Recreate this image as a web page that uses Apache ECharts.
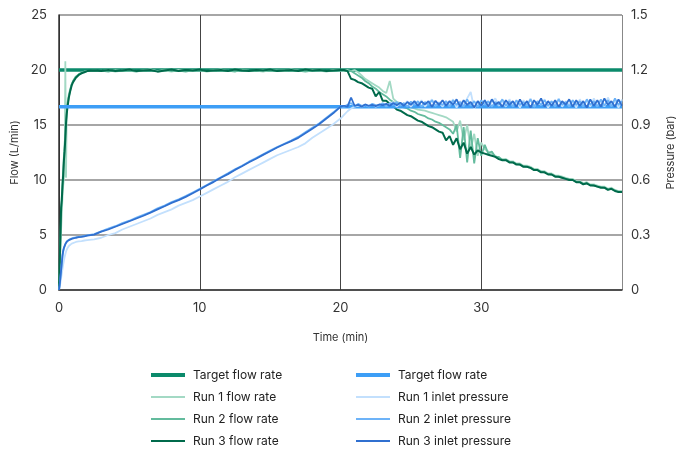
<!DOCTYPE html>
<html>
<head>
<meta charset="utf-8">
<script src="https://cdn.jsdelivr.net/npm/echarts@6/dist/echarts.min.js"></script>
<style>html,body{margin:0;padding:0;background:#fff}#c{width:684px;height:450px}</style>
</head>
<body>
<div id="c"></div>
<script>
// ---- time (min) ----
const tEarly = [0,0.05,0.1,0.15,0.2,0.25,0.3,0.35,0.4,0.45,0.5,0.55,0.6,0.7,0.8,0.9,1.0,1.2,1.4,1.6,1.8,2.0];
const tMid = [2.5,3,3.5,4,4.5,5,5.5,6,6.5,7,7.5,8,
  8.5,9,9.5,10,10.5,11,11.5,12,12.5,13,13.5,14,
  14.5,15,15.5,16,16.5,17,17.5,18,18.5,19,19.5,20];
const tLate = [20.25,20.5,20.75,21,21.25,21.5,21.75,22,22.25,22.5,
  22.75,23,23.25,23.5,23.75,24,24.25,24.5,24.75,25,
  25.25,25.5,25.75,26,26.25,26.5,26.75,27,27.25,27.5,
  27.75,28,28.25,28.5,28.75,29,29.25,29.5,29.75,30,
  30.25,30.5,30.75,31,31.25,31.5,31.75,32,32.25,32.5,
  32.75,33,33.25,33.5,33.75,34,34.25,34.5,34.75,35,
  35.25,35.5,35.75,36,36.25,36.5,36.75,37,37.25,37.5,
  37.75,38,38.25,38.5,38.75,39,39.25,39.5,39.75,40];
const time = tEarly.concat(tMid, tLate);

// ---- targets ----
const targetTime = [0, 40];
const targetFlow = [20, 20];
const targetPressure = [1.0, 1.0];

// ---- flow rate (L/min) ----
const run1Flow = [
  0,1.5,3.5,5.5,7.0,8.5,9.5,10.2,10.5,20.8,10.2,16.5,17.0,17.8,18.3,18.7,19.0,19.4,19.6,19.75,19.85,19.9,
  19.95,19.9,20.0,19.85,19.95,20.0,19.9,19.95,20.05,19.9,19.95,19.85,
  20.0,19.9,19.95,20.0,19.85,19.95,20.05,19.9,19.95,20.0,19.9,19.95,
  19.85,20.0,19.95,19.9,20.05,19.95,19.9,20.0,19.95,19.85,20.0,19.95,
  19.95,20.0,19.9,20.0,19.8,19.5,19.2,19.0,18.8,18.6,
  18.4,18.1,17.9,19.0,17.4,17.1,17.0,16.8,16.7,16.6,
  16.5,16.4,16.35,16.3,16.2,16.1,16.0,15.9,15.8,15.7,
  15.5,15.3,14.4,15.4,13.6,15.0,12.8,14.2,12.2,13.4,
  12.8,12.6,12.4,12.2,12.0,11.9,11.9,11.7,11.7,11.5,
  11.5,11.3,11.3,11.2,11.0,11.0,10.8,10.8,10.6,10.6,
  10.4,10.4,10.3,10.2,10.1,10.1,9.9,9.9,9.7,9.8,
  9.6,9.6,9.5,9.4,9.4,9.2,9.3,9.1,9.0,9.0];
const run2Flow = [
  0,2.0,4.5,7.0,8.5,9.8,11.0,12.2,13.2,14.3,15.4,16.2,16.8,17.6,18.2,18.7,19.0,19.4,19.6,19.75,19.85,19.9,
  19.9,19.95,19.85,20.0,19.9,19.95,19.85,20.0,19.95,19.9,20.05,19.9,
  19.95,19.85,20.0,19.95,19.9,20.0,19.9,19.95,19.85,20.05,19.95,19.9,
  20.0,19.9,19.95,20.0,19.9,19.95,19.85,19.95,20.0,19.9,19.95,20.0,
  20.0,19.95,19.9,19.7,19.5,19.3,19.0,18.8,18.5,18.3,
  18.0,17.8,17.6,17.3,17.1,16.9,16.8,16.6,16.5,16.3,
  16.2,16.0,15.9,15.8,15.6,15.5,15.3,15.2,15.0,14.8,
  14.6,14.2,15.0,12.0,14.8,11.6,14.5,11.5,13.8,12.2,
  13.2,12.4,12.6,12.1,12.1,11.8,11.85,11.65,11.6,11.45,
  11.4,11.25,11.2,11.1,10.95,10.9,10.75,10.7,10.55,10.5,
  10.35,10.3,10.2,10.1,10.05,10.0,9.85,9.8,9.65,9.7,
  9.55,9.5,9.4,9.35,9.3,9.15,9.2,9.05,8.95,8.9];
const run3Flow = [
  0,2.5,5.0,7.5,8.2,9.5,10.5,11.8,12.6,13.8,15.2,16.0,16.6,17.5,18.1,18.6,18.9,19.3,19.55,19.7,19.8,19.9,
  19.95,19.9,20.0,19.9,19.95,20.05,19.9,19.95,20.0,19.85,19.95,20.05,
  19.9,20.0,19.95,20.05,19.9,19.95,20.0,19.9,20.05,19.95,19.9,20.0,
  19.95,20.05,19.9,19.95,20.0,19.9,20.05,19.95,20.0,19.9,19.95,20.0,
  20.0,19.9,19.2,19.1,18.9,18.8,18.6,18.4,18.3,17.6,
  18.0,17.2,17.2,16.9,16.7,16.4,16.3,16.1,15.9,15.8,
  15.6,15.4,15.3,15.1,14.9,14.8,14.6,14.4,14.3,13.6,
  14.0,13.2,13.8,12.8,13.4,12.4,13.0,12.3,12.7,12.5,
  12.4,12.3,12.2,12.1,11.9,11.8,11.8,11.6,11.6,11.4,
  11.4,11.2,11.2,11.1,10.9,10.9,10.7,10.7,10.5,10.5,
  10.3,10.3,10.2,10.1,10.0,10.0,9.8,9.8,9.6,9.7,
  9.5,9.5,9.4,9.3,9.3,9.1,9.2,9.0,8.9,8.9];

// ---- inlet pressure (bar) ----
const run1Pressure = [
  0,0.015,0.04,0.065,0.09,0.115,0.14,0.16,0.18,0.195,0.21,0.22,0.228,0.24,0.248,0.253,0.257,0.262,0.265,0.267,0.27,0.272,
  0.276,0.285,0.30,0.31,0.33,0.345,0.36,0.375,0.39,0.41,0.425,0.44,
  0.46,0.475,0.49,0.51,0.53,0.55,0.57,0.59,0.615,0.635,0.655,0.675,
  0.695,0.715,0.735,0.75,0.765,0.78,0.80,0.83,0.855,0.88,0.905,0.935,
  0.955,0.975,0.99,1.0,1.005,1.0,1.01,1.005,1.015,1.0,
  1.01,1.02,1.005,1.015,1.025,1.0,1.02,1.01,1.03,1.0,
  1.025,1.01,1.035,1.0,1.02,1.04,1.005,1.025,1.0,1.03,
  1.01,1.04,0.995,1.03,1.01,1.045,1.08,0.99,1.03,1.005,
  1.035,1.0,1.025,1.045,1.005,1.03,1.0,1.04,1.01,1.025,
  0.995,1.035,1.01,1.045,1.0,1.03,1.01,1.04,0.995,1.025,
  1.01,1.045,1.0,1.03,1.01,1.035,0.995,1.04,1.01,1.03,
  1.0,1.045,1.005,1.035,1.0,1.05,1.01,1.03,0.995,1.04];
const run2Pressure = [
  0,0.028,0.065,0.105,0.145,0.185,0.21,0.228,0.24,0.25,0.258,0.264,0.269,0.274,0.278,0.281,0.284,0.287,0.29,0.292,0.295,0.298,
  0.305,0.32,0.335,0.348,0.365,0.378,0.395,0.41,0.425,0.445,0.46,0.48,
  0.495,0.512,0.532,0.552,0.573,0.594,0.615,0.636,0.658,0.678,0.70,0.72,
  0.74,0.76,0.78,0.798,0.815,0.835,0.86,0.885,0.91,0.94,0.97,1.0,
  1.0,1.01,1.02,1.0,1.015,1.005,1.01,1.0,1.015,1.008,
  1.005,1.018,1.0,1.02,1.01,1.025,1.005,1.02,1.0,1.028,
  1.01,1.03,1.0,1.025,1.01,1.035,1.005,1.02,1.01,1.03,
  1.0,1.035,1.01,1.025,1.0,1.04,1.005,1.03,1.0,1.035,
  1.01,1.03,1.0,1.025,1.01,1.04,1.005,1.03,1.0,1.035,
  1.01,1.025,1.005,1.04,1.0,1.03,1.01,1.035,1.005,1.03,
  1.0,1.04,1.01,1.025,1.0,1.035,1.01,1.03,1.0,1.04,
  1.01,1.03,1.0,1.04,1.005,1.035,1.0,1.045,1.01,1.03];
const run3Pressure = [
  0,0.03,0.07,0.11,0.15,0.19,0.215,0.23,0.24,0.25,0.257,0.263,0.268,0.272,0.276,0.279,0.282,0.285,0.288,0.29,0.293,0.296,
  0.302,0.318,0.33,0.345,0.36,0.375,0.39,0.405,0.422,0.44,0.457,0.475,
  0.49,0.508,0.528,0.548,0.57,0.59,0.612,0.632,0.655,0.675,0.697,0.716,
  0.737,0.757,0.777,0.795,0.812,0.83,0.855,0.88,0.905,0.935,0.965,1.0,
  1.005,1.0,1.05,1.005,1.01,1.0,1.012,1.005,1.01,1.003,
  1.012,1.008,1.015,1.005,1.02,1.008,1.022,1.005,1.025,1.01,
  1.03,1.005,1.028,1.012,1.03,1.0,1.032,1.01,1.035,1.005,
  1.03,1.01,1.04,1.0,1.035,1.01,1.025,0.995,1.03,1.005,
  1.035,1.0,1.04,1.01,1.025,1.0,1.035,1.01,1.03,1.0,
  1.04,1.005,1.03,0.995,1.035,1.01,1.045,1.0,1.03,1.005,
  1.035,1.0,1.03,1.01,1.04,1.0,1.035,1.005,1.03,0.995,
  1.04,1.005,1.035,1.0,1.045,1.01,1.03,1.0,1.04,1.005];

// ---- axis ticks / labels ----
const flowTicks = {min: 0, max: 25, interval: 5};
const pressureTicks = {min: 0, max: 1.5, interval: 0.3};
const timeTicks = {min: 0, max: 40, interval: 10};

const flowLegend = ['Target flow rate', 'Run 1 flow rate', 'Run 2 flow rate', 'Run 3 flow rate'];
const pressureLegend = ['Target flow rate ', 'Run 1 inlet pressure', 'Run 2 inlet pressure', 'Run 3 inlet pressure'];

function pairs(xs, ys) {
  const out = [];
  for (let i = 0; i < xs.length && i < ys.length; i++) out.push([xs[i], ys[i]]);
  return out;
}

const FONT = 'Inter';
const THICK_ICON = 'path://M0,0H34V4H0Z';
const THIN_ICON = 'path://M0,0H34V2H0Z';
function legendItems(names) {
  return names.map(function (n, i) { return {name: n, icon: i === 0 ? THICK_ICON : THIN_ICON}; });
}
function lineSeries(name, xs, ys, color, width, axis) {
  return {
    name: name, type: 'line', yAxisIndex: axis, data: pairs(xs, ys),
    symbol: 'none', showSymbol: false, smooth: false,
    lineStyle: {color: color, width: width}, itemStyle: {color: color},
    emphasis: {disabled: true}, animation: false
  };
}

const chart = echarts.init(document.getElementById('c'), null, {renderer: 'canvas'});
const legendBase = {
  orient: 'vertical', itemWidth: 34, itemHeight: 12, itemGap: 10, padding: 0,
  height: 100,
  itemStyle: {borderWidth: 0},
  textStyle: {fontFamily: FONT, fontSize: 12, color: '#222', padding: [0, 0, 0, 3]},
  selectedMode: false
};
chart.setOption({
  animation: false,
  grid: {left: 59, right: 57, top: 15, bottom: 160, containLabel: false},
  legend: [
    Object.assign({}, legendBase, {data: legendItems(flowLegend), left: 151, top: 369}),
    Object.assign({}, legendBase, {data: legendItems(pressureLegend), left: 356, top: 369,
      formatter: function (n) { return n.trim(); }})
  ],
  xAxis: {
    type: 'value', min: timeTicks.min, max: timeTicks.max, interval: timeTicks.interval,
    name: 'Time (min)', nameLocation: 'middle', nameGap: 42,
    nameTextStyle: {fontFamily: FONT, fontSize: 11, color: '#333'},
    axisLine: {show: true, lineStyle: {color: '#333', width: 1.5}},
    axisTick: {show: false},
    axisLabel: {fontFamily: FONT, fontSize: 13, color: '#333', margin: 12,
      formatter: function (v) { return v === 40 ? '' : String(v); }},
    splitLine: {show: true, lineStyle: {color: ['#333', '#444', '#444', '#444', '#888'], width: 1}}
  },
  yAxis: [
    {
      type: 'value', min: flowTicks.min, max: flowTicks.max, interval: flowTicks.interval,
      name: 'Flow (L/min)', nameLocation: 'middle', nameGap: 32, nameRotate: 90,
      nameTextStyle: {fontFamily: FONT, fontSize: 11, color: '#333'},
      axisLine: {show: true, lineStyle: {color: '#333', width: 1.5}},
      axisTick: {show: false},
      axisLabel: {fontFamily: FONT, fontSize: 13, color: '#333', margin: 12},
      splitLine: {show: true, lineStyle: {color: '#888', width: 1.5}}
    },
    {
      type: 'value', position: 'right', min: pressureTicks.min, max: pressureTicks.max, interval: pressureTicks.interval,
      name: 'Pressure (bar)', nameLocation: 'middle', nameGap: 43, nameRotate: 90,
      nameTextStyle: {fontFamily: FONT, fontSize: 11, color: '#333'},
      axisLine: {show: false}, axisTick: {show: false},
      axisLabel: {fontFamily: FONT, fontSize: 13, color: '#333', margin: 9,
        formatter: function (v) { return v === 0 ? '0' : v.toFixed(1); }},
      splitLine: {show: false}
    }
  ],
  series: [
    lineSeries('Target flow rate', targetTime, targetFlow, '#0b8a6b', 3.5, 0),
    lineSeries('Run 1 flow rate', time, run1Flow, '#a3d9c4', 1.8, 0),
    lineSeries('Run 2 flow rate', time, run2Flow, '#63bb9d', 1.8, 0),
    lineSeries('Run 3 flow rate', time, run3Flow, '#006a4b', 2, 0),
    lineSeries('Target flow rate ', targetTime, targetPressure, '#3d9ef6', 3.5, 1),
    lineSeries('Run 1 inlet pressure', time, run1Pressure, '#c3e0fd', 1.8, 1),
    lineSeries('Run 2 inlet pressure', time, run2Pressure, '#6db3f8', 1.8, 1),
    lineSeries('Run 3 inlet pressure', time, run3Pressure, '#3070d0', 1.8, 1)
  ]
});
</script>
</body>
</html>
